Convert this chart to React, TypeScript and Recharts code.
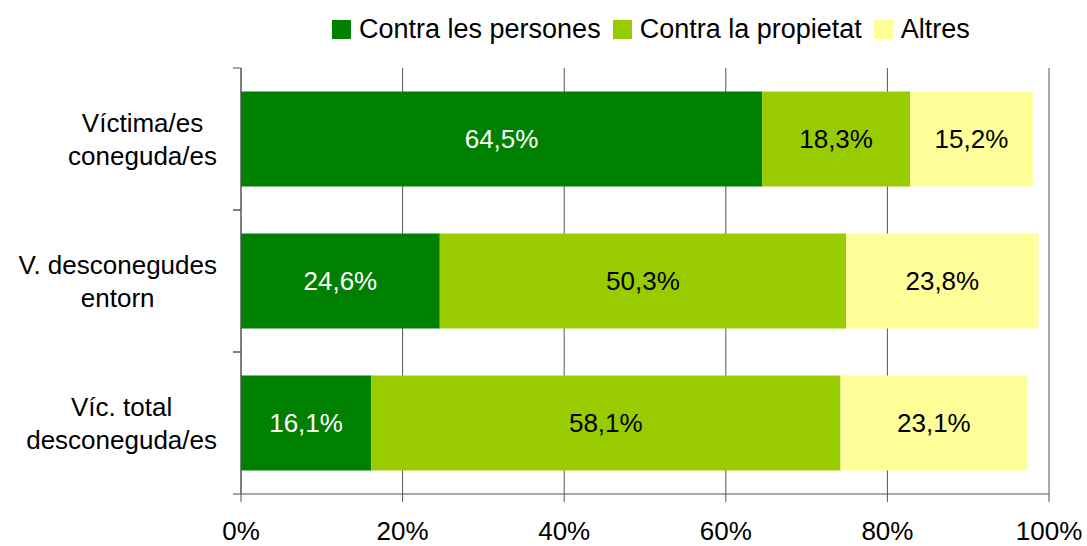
import React from 'react';
import { BarChart, Bar, XAxis, YAxis, CartesianGrid, LabelList, Legend } from 'recharts';

const categories = ['Víctima/es\nconeguda/es', 'V. desconegudes\nentorn', 'Víc. total\ndesconeguda/es'];
const contraPersones = [64.5, 24.6, 16.1];
const contraPropietat = [18.3, 50.3, 58.1];
const altres = [15.2, 23.8, 23.1];
const xTicks = [0, 20, 40, 60, 80, 100];

const seriesNames = ['Contra les persones', 'Contra la propietat', 'Altres'];
const seriesColors = ['#008000', '#99CC00', '#FFFF99'];

const data = categories.map((c, i) => ({
  name: c,
  persones: contraPersones[i],
  propietat: contraPropietat[i],
  altres: altres[i],
}));

const FONT = "'Liberation Sans', Arial, sans-serif";
const AXIS_COLOR = '#555555';

let ctx: CanvasRenderingContext2D | null = null;
function measure(text: string): number {
  if (!ctx) {
    const c = document.createElement('canvas');
    ctx = c.getContext('2d');
  }
  if (!ctx) return text.length * 13;
  ctx.font = `26px ${FONT}`;
  return ctx.measureText(text).width;
}

const fmt = (v: any) => `${Number(v).toFixed(1).replace('.', ',')}%`;

const CategoryTick = (props: any) => {
  const { x, y, payload } = props;
  const lines = String(payload.value).split('\n');
  const maxW = Math.max(...lines.map(measure));
  const cx = x - maxW / 2;
  const half = payload.offset ?? 71;
  const axisX = x + 24;
  const n = lines.length;
  return (
    <g>
      <line x1={axisX - 8} x2={axisX} y1={y - half} y2={y - half} stroke={AXIS_COLOR} strokeWidth={1} />
      <line x1={axisX - 8} x2={axisX} y1={y + half} y2={y + half} stroke={AXIS_COLOR} strokeWidth={1} />
      {lines.map((l, i) => (
        <text
          key={i}
          x={cx}
          y={y + 9 + (i - (n - 1) / 2) * 33}
          textAnchor="middle"
          fontSize={26}
          fill="#000"
          fontFamily={FONT}
        >
          {l}
        </text>
      ))}
    </g>
  );
};

const LegendContent = () => (
  <div
    style={{
      display: 'flex',
      alignItems: 'center',
      paddingLeft: 332,
      paddingTop: 19,
      fontFamily: FONT,
      fontSize: 27,
      color: '#000',
      lineHeight: '20px',
    }}
  >
    {seriesNames.map((n, i) => (
      <div key={n} style={{ display: 'flex', alignItems: 'center', marginRight: 12 }}>
        <div style={{ width: 19, height: 19, background: seriesColors[i], marginRight: 8 }} />
        <span>{n}</span>
      </div>
    ))}
  </div>
);

export default function App() {
  return (
    <div style={{ position: 'absolute', left: 0, top: 0, width: 1087, height: 546, background: '#fff', fontFamily: FONT }}>
      <BarChart
        width={1087}
        height={546}
        data={data}
        layout="vertical"
        margin={{ top: 68, right: 38, left: 0, bottom: 0 }}
        barCategoryGap="16.6%"
      >
        <Legend
          layout="horizontal"
          verticalAlign="middle"
          align="center"
          wrapperStyle={{ top: 0, left: 0, width: 1087, height: 58 }}
          content={() => <LegendContent />}
        />
        <CartesianGrid horizontal={false} vertical={true} stroke={AXIS_COLOR} strokeWidth={1} />
        <XAxis
          type="number"
          domain={[0, 100]}
          ticks={xTicks}
          tickFormatter={(v: number) => `${v}%`}
          tickSize={8}
          tickMargin={20}
          height={52}
          axisLine={{ stroke: AXIS_COLOR }}
          tickLine={{ stroke: AXIS_COLOR }}
          tick={{ fontSize: 26, fill: '#000', fontFamily: FONT }}
          interval={0}
        />
        <YAxis
          type="category"
          dataKey="name"
          width={241}
          tickSize={8}
          tickMargin={16}
          tickLine={false}
          axisLine={{ stroke: AXIS_COLOR }}
          tick={<CategoryTick />}
          interval={0}
        />
        <Bar dataKey="persones" stackId="a" fill={seriesColors[0]} isAnimationActive={false}>
          <LabelList dataKey="persones" position="center" fill="#ffffff" fontSize={26} fontFamily={FONT} formatter={fmt} />
        </Bar>
        <Bar dataKey="propietat" stackId="a" fill={seriesColors[1]} isAnimationActive={false}>
          <LabelList dataKey="propietat" position="center" fill="#000000" fontSize={26} fontFamily={FONT} formatter={fmt} />
        </Bar>
        <Bar dataKey="altres" stackId="a" fill={seriesColors[2]} isAnimationActive={false}>
          <LabelList dataKey="altres" position="center" fill="#000000" fontSize={26} fontFamily={FONT} formatter={fmt} />
        </Bar>
      </BarChart>
    </div>
  );
}
